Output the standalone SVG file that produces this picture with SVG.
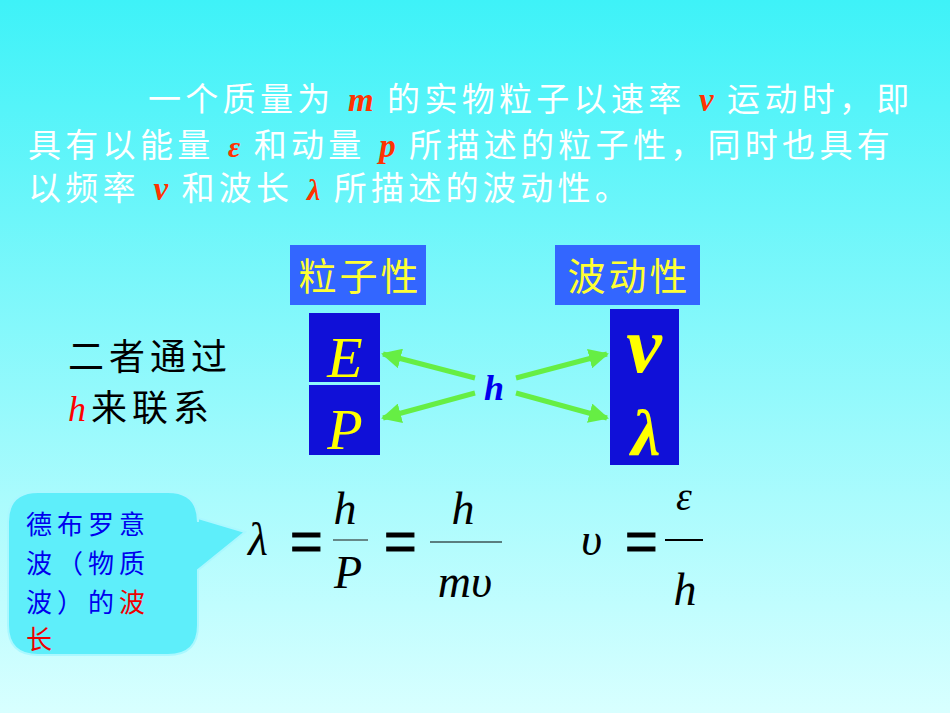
<svg xmlns="http://www.w3.org/2000/svg" width="950" height="713" viewBox="0 0 950 713">
<defs>
<linearGradient id="bg" x1="0" y1="0" x2="0" y2="1"><stop offset="0" stop-color="#3ef2f8"/><stop offset="1" stop-color="#d8ffff"/></linearGradient>
<marker id="ah" viewBox="0 0 10 10" refX="9" refY="5" markerWidth="4" markerHeight="4" orient="auto"><path d="M0,0L10,5L0,10z" fill="#66ee44"/></marker>
</defs>
<style>
.cn{font-family:"Liberation Sans","Noto Sans CJK SC",sans-serif}
.t{font-size:33px;fill:#ffffff;letter-spacing:4.3px}
.v{font-family:"Liberation Serif",serif;font-weight:bold;font-style:italic;fill:#ff3300;letter-spacing:0}
.m{font-family:"Liberation Serif",serif;font-style:italic;fill:#000}
.e{font-family:"Liberation Sans",sans-serif;font-size:56px;fill:#000;stroke:#000;stroke-width:1}
.hd{font-size:38px;fill:#ffff33;letter-spacing:3px}
.bl{font-family:"Liberation Serif",serif;font-style:italic;fill:#ffff00}
.c{stroke:#66ee44;stroke-width:5;fill:none;marker-end:url(#ah)}
</style>
<rect width="950" height="713" fill="url(#bg)"/>
<g id="intro" class="cn t">
<text x="148" y="111">一个质量为 <tspan class="v">m</tspan> 的实物粒子以速率 <tspan class="v">v</tspan>  运动时，即</text>
<text x="28" y="157">具有以能量   <tspan class="v" font-size="30">ε</tspan>  和动量 <tspan class="v">p</tspan> 所描述的粒子性，同时也具有</text>
<text x="28" y="200">以频率 <tspan class="v">v</tspan> 和波长   <tspan class="v" font-size="30">λ</tspan>  所描述的波动性。</text>
</g>
<g id="particle"><rect x="290" y="245" width="136" height="60" fill="#3366ff"/><text class="cn hd" x="360" y="290" text-anchor="middle">粒子性</text></g>
<g id="wave"><rect x="555" y="245" width="145" height="60" fill="#3366ff"/><text class="cn hd" x="629" y="290" text-anchor="middle">波动性</text></g>
<g id="E"><rect x="309" y="313" width="71" height="69" fill="#1010d8"/><text class="bl" x="345" y="377" font-size="58" text-anchor="middle">E</text></g>
<g id="P"><rect x="309" y="385" width="71" height="70" fill="#1010d8"/><text class="bl" x="345" y="449" font-size="58" text-anchor="middle">P</text></g>
<g id="nu"><rect x="610" y="309" width="69" height="78" fill="#1010d8"/><text class="bl" x="644" y="372" font-size="80" font-weight="bold" text-anchor="middle">ν</text></g>
<g id="lam"><rect x="610" y="387" width="69" height="78" fill="#1010d8"/><text class="bl" x="646" y="455" font-size="66" font-weight="bold" text-anchor="middle">λ</text></g>
<g id="hnode"><text x="494" y="400" font-family="Liberation Serif,serif" font-weight="bold" font-style="italic" font-size="36" fill="#0000ee" text-anchor="middle">h</text></g>
<g id="connectors">
<line class="c" x1="475" y1="378" x2="383" y2="354"/>
<line class="c" x1="475" y1="393" x2="383" y2="418"/>
<line class="c" x1="516" y1="378" x2="607" y2="354"/>
<line class="c" x1="516" y1="393" x2="607" y2="418"/>
</g>
<g id="relate" class="cn" font-size="36" fill="#000" letter-spacing="5">
<text x="68" y="370">二者通过</text>
<text x="68" y="421"><tspan font-family="Liberation Serif,serif" font-style="italic" fill="#ff0000">h</tspan>来联系</text>
</g>
<g id="callout">
<path d="M30,492H168Q198,492 198,522V518L245,532L198,570V625Q198,655 168,655H38Q8,655 8,625V522Q8,492 38,492Z" fill="#5eeefa" stroke="#aaf8ff" stroke-width="2"/>
<g class="cn" font-size="26" fill="#0000ee" letter-spacing="5">
<text x="26" y="534">德布罗意</text>
<text x="26" y="573">波（物质</text>
<text x="26" y="612">波）的<tspan fill="#ee0000">波</tspan></text>
<text x="26" y="649" fill="#ee0000">长</text>
</g>
</g>
<g id="formula1">
<text class="m" x="248" y="555" font-size="46">λ</text>
<text class="e" x="290" y="560">=</text>
<text class="m" x="345" y="524" font-size="46" text-anchor="middle">h</text>
<line x1="333" y1="540" x2="368" y2="540" stroke="#668888" stroke-width="2"/>
<text class="m" x="348" y="588" font-size="46" text-anchor="middle">P</text>
<text class="e" x="384" y="560">=</text>
<text class="m" x="463" y="524" font-size="46" text-anchor="middle">h</text>
<line x1="430" y1="542" x2="502" y2="542" stroke="#000" stroke-width="1"/>
<text class="m" x="465" y="597" font-size="46" text-anchor="middle">mυ</text>
</g>
<g id="formula2">
<text class="m" x="581" y="555" font-size="46">υ</text>
<text class="e" x="625" y="560">=</text>
<text class="m" x="684" y="510" font-size="40" text-anchor="middle">ε</text>
<line x1="665" y1="540" x2="703" y2="540" stroke="#000" stroke-width="2"/>
<text class="m" x="685" y="605" font-size="46" text-anchor="middle">h</text>
</g>
</svg>
